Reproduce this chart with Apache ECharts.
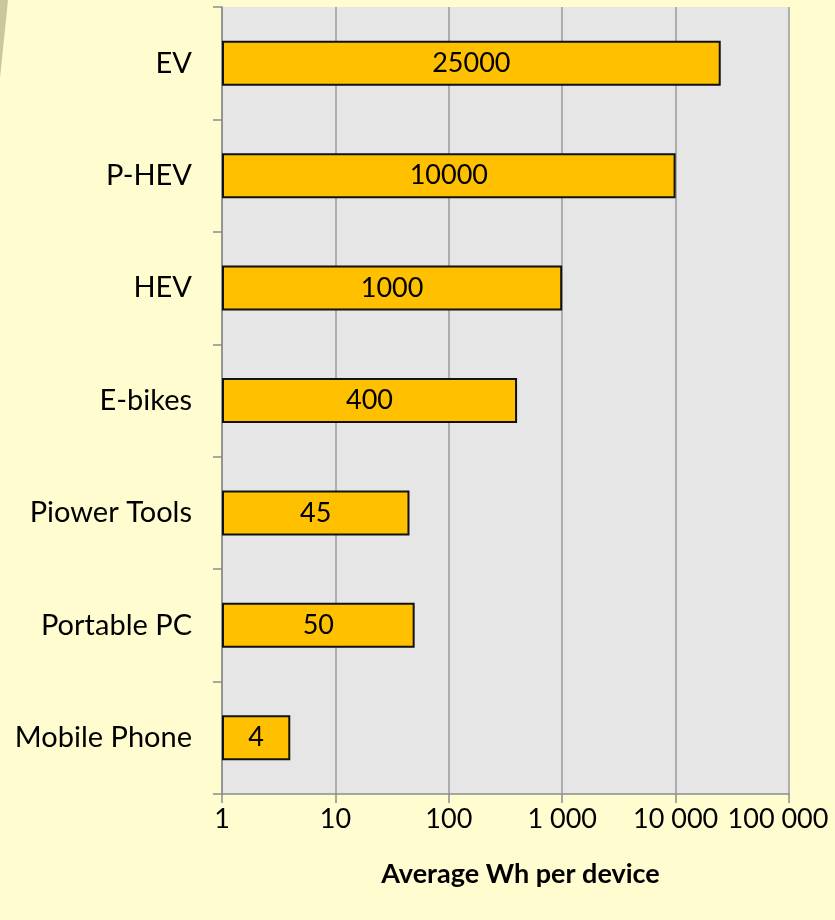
<!DOCTYPE html>
<html>
<head>
<meta charset="utf-8">
<script src="https://cdn.jsdelivr.net/npm/echarts@6/dist/echarts.min.js"></script>
<style>
  html, body { margin: 0; padding: 0; background: #FFFDCF; }
  #chart { width: 835px; height: 920px; }
</style>
</head>
<body>
<div id="chart"></div>
<script>
// categories bottom -> top, same order as the category axis
const devices = ['Mobile Phone', 'Portable PC', 'Piower Tools', 'E-bikes', 'HEV', 'P-HEV', 'EV'];
const whPerDevice = [4, 50, 45, 400, 1000, 10000, 25000];
const axisTitle = 'Average Wh per device';
const axisMax = 100000;

const FONT = 'Lato, "Open Sans", sans-serif';

// "1 000" style thousands separator like the original
const fmt = v => String(Math.round(v)).replace(/\B(?=(\d{3})+(?!\d))/g, ' ');

const chart = echarts.init(document.getElementById('chart'));
chart.setOption({
  backgroundColor: '#FFFDCF',
  animation: false,
  graphic: [{
    type: 'polygon',
    shape: { points: [[0, 0], [8, 0], [0, 78]] },
    style: { fill: '#C9C79B' },
    silent: true
  }],
  grid: {
    left: 222, right: 46, top: 7, bottom: 126,
    outerBoundsMode: 'none',
    containLabel: false,
    show: true, backgroundColor: '#E6E6E6', borderWidth: 0
  },
  xAxis: {
    type: 'log',
    logBase: 10,
    min: 1,
    max: axisMax,
    name: axisTitle,
    nameLocation: 'middle',
    nameGap: 67,
    nameTextStyle: {
      fontFamily: FONT, fontSize: 27, fontWeight: 'bold', color: '#000',
      padding: [0, 0, 0, 30]
    },
    axisLine: { show: true, lineStyle: { color: '#8C8C8C', width: 1.5 } },
    axisTick: { show: true, length: 9, lineStyle: { color: '#8C8C8C', width: 1.5 } },
    axisLabel: {
      fontFamily: FONT, fontSize: 27, color: '#000', margin: 12,
      hideOverlap: false,
      // last label pulled a little left so it stays inside the canvas
      formatter: v => Math.round(v) === axisMax ? '{last|' + fmt(v) + '}' : fmt(v),
      rich: {
        last: { fontFamily: FONT, fontSize: 27, color: '#000', padding: [0, 22, 0, 0] }
      }
    },
    splitLine: { show: true, lineStyle: { color: '#9A9A9A', width: 1.5 } },
    minorTick: { show: false },
    minorSplitLine: { show: false }
  },
  yAxis: {
    type: 'category',
    data: devices,
    boundaryGap: true,
    axisLine: { show: true, lineStyle: { color: '#8C8C8C', width: 1.5 } },
    axisTick: { show: true, length: 9, lineStyle: { color: '#8C8C8C', width: 1.5 } },
    axisLabel: { fontFamily: FONT, fontSize: 29, color: '#000', margin: 30 },
    splitLine: { show: false }
  },
  series: [{
    type: 'bar',
    data: whPerDevice,
    barWidth: '40%',
    itemStyle: { color: '#FFC000', borderColor: '#111', borderWidth: 2 },
    label: {
      show: true,
      position: 'inside',
      fontFamily: FONT,
      fontSize: 27,
      color: '#000',
      formatter: p => String(p.value)
    }
  }]
});
</script>
</body>
</html>
